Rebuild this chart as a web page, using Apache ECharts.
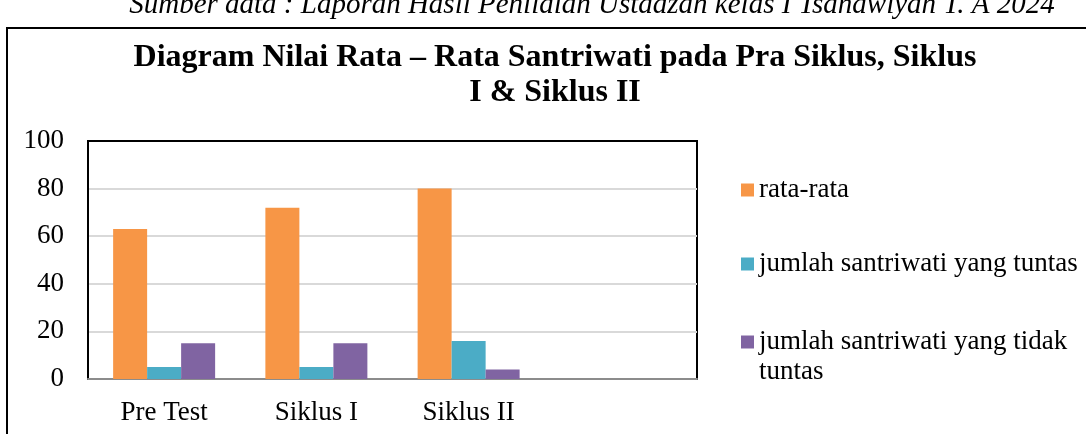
<!DOCTYPE html>
<html>
<head>
<meta charset="utf-8">
<script src="https://cdn.jsdelivr.net/npm/echarts@6/dist/echarts.min.js"></script>
<style>
  html, body { margin: 0; padding: 0; background: #fff; }
  #chart { width: 1086px; height: 434px; }
</style>
</head>
<body>
<div id="chart"></div>
<script>
// data
const categories = ['Pre Test', 'Siklus I', 'Siklus II', ''];
const rataRata = [63, 72, 80, null];
const tuntas = [5, 5, 16, null];
const tidakTuntas = [15, 15, 4, null];
const yTicks = { min: 0, max: 100, interval: 20 };

const serif = '"Liberation Serif", "Times New Roman", serif';
const nameRata = 'rata-rata';
const nameTuntas = 'jumlah santriwati yang tuntas';
const nameTidak = 'jumlah santriwati yang tidak tuntas';

const chart = echarts.init(document.getElementById('chart'));

const legendText = { fontFamily: serif, fontSize: 27, color: '#000', lineHeight: 30 };

chart.setOption({
    animation: false,
    textStyle: { fontFamily: serif },
    graphic: [
        {
            type: 'text', x: 592, y: 5,
            style: {
                text: 'Sumber data : Laporan Hasil Penilaian Ustadzah kelas I Tsanawiyah T. A 2024',
                font: 'italic 29px ' + serif, fill: '#000',
                align: 'center', verticalAlign: 'middle'
            }
        },
        {
            type: 'rect', shape: { x: 7, y: 28, width: 1100, height: 430 },
            style: { fill: 'none', stroke: '#000', lineWidth: 2 }
        },
        {
            type: 'text', x: 555, y: 75,
            style: {
                text: 'Diagram Nilai Rata – Rata Santriwati pada Pra Siklus, Siklus\nI & Siklus II',
                font: 'bold 32px ' + serif, fill: '#000',
                align: 'center', verticalAlign: 'middle', lineHeight: 35
            }
        }
    ],
    legend: [
        {
            data: [nameRata, nameTuntas],
            orient: 'vertical', left: 741, top: 175, padding: 0,
            itemWidth: 13, itemHeight: 13, itemGap: 44,
            icon: 'rect', selectedMode: false,
            textStyle: legendText
        },
        {
            data: [nameTidak],
            orient: 'vertical', left: 741, top: 297, padding: 0,
            itemWidth: 13, itemHeight: 13,
            icon: 'rect', selectedMode: false,
            formatter: () => '\njumlah santriwati yang tidak\ntuntas',
            textStyle: legendText
        }
    ],
    grid: {
        left: 88, right: 389, top: 141, bottom: 55,
        show: true, borderColor: '#000', borderWidth: 2, backgroundColor: '#fff'
    },
    xAxis: [
        {
            type: 'category', data: categories,
            axisLine: { lineStyle: { color: '#8c8c8c', width: 2 } },
            axisTick: { show: false },
            axisLabel: { color: '#000', fontSize: 27, fontFamily: serif, margin: 20 }
        },
        {
            // black frame on top of the 100 gridline
            type: 'category', data: categories, position: 'top',
            axisLine: { lineStyle: { color: '#000', width: 2 } },
            axisTick: { show: false },
            axisLabel: { show: false }
        }
    ],
    yAxis: {
        type: 'value', min: yTicks.min, max: yTicks.max, interval: yTicks.interval,
        axisLine: { show: true, lineStyle: { color: '#000', width: 2 } },
        axisTick: { show: false },
        axisLabel: { color: '#000', fontSize: 27, fontFamily: serif, margin: 24 },
        splitLine: { lineStyle: { color: '#d9d9d9', width: 2 } }
    },
    series: [
        { name: nameRata, type: 'bar', data: rataRata, barWidth: 34, barGap: '0%',
          itemStyle: { color: '#F79646' } },
        { name: nameTuntas, type: 'bar', data: tuntas, barWidth: 34, barGap: '0%',
          itemStyle: { color: '#4BACC6' } },
        { name: nameTidak, type: 'bar', data: tidakTuntas, barWidth: 34, barGap: '0%',
          itemStyle: { color: '#8064A2' } }
    ]
});
</script>
</body>
</html>
